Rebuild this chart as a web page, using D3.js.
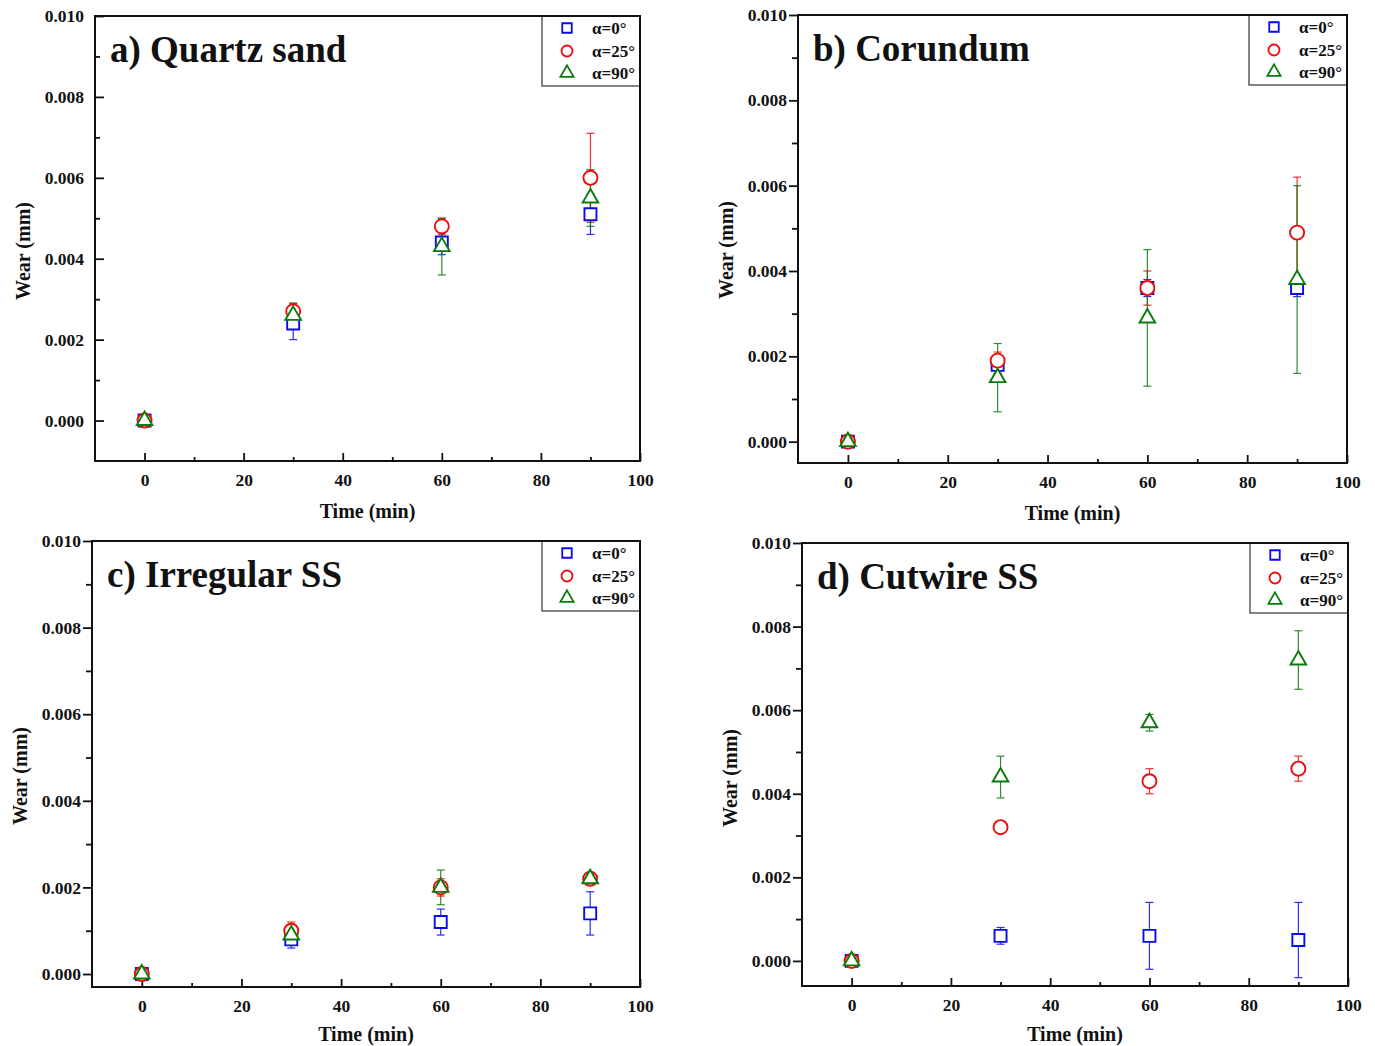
<!DOCTYPE html>
<html>
<head>
<meta charset="utf-8">
<script src="https://cdn.jsdelivr.net/npm/d3@7"></script>
<style>
  html, body { margin: 0; padding: 0; background: #fff; }
  svg { display: block; }
  text { font-family: "Liberation Serif", "Times New Roman", serif; font-weight: bold; }
</style>
</head>
<body>
<svg id="chart" width="1375" height="1046"></svg>
<script>
// ---------------- data ----------------
const times = [0, 30, 60, 90];
const seriesLabels = ["α=0°", "α=25°", "α=90°"];
const panelTitles = ["a) Quartz sand", "b) Corundum", "c) Irregular SS", "d) Cutwire SS"];
const xTickValues = [0, 20, 40, 60, 80, 100];
const xMinorTicks = [10, 30, 50, 70, 90];
const yTickValues = [0, 0.002, 0.004, 0.006, 0.008, 0.010];
const yMinorTicks = [0.001, 0.003, 0.005, 0.007, 0.009];
const xDomain = [-10, 100];
const yMins = [-0.001, -0.0005, -0.0003, -0.0006];
const yMax = 0.010;

// rows: α=0°, α=25°, α=90°
const quartzWear = [
  [0, 0.0024, 0.0044, 0.0051],
  [0, 0.0027, 0.0048, 0.0060],
  [0, 0.0026, 0.0043, 0.0055]
];
const quartzErr = [
  [0, 0.0004, 0.0003, 0.0005],
  [0, 0.0002, 0.0002, 0.0011],
  [0, 0.0003, 0.0007, 0.0007]
];
const corundumWear = [
  [0, 0.0018, 0.0036, 0.0036],
  [0, 0.0019, 0.0036, 0.0049],
  [0, 0.0015, 0.0029, 0.0038]
];
const corundumErr = [
  [0, 0.0002, 0.0002, 0.0002],
  [0, 0.0002, 0.0004, 0.0013],
  [0, 0.0008, 0.0016, 0.0022]
];
const irregularWear = [
  [0, 0.0008, 0.0012, 0.0014],
  [0, 0.0010, 0.0020, 0.0022],
  [0, 0.0009, 0.0020, 0.0022]
];
const irregularErr = [
  [0, 0.0002, 0.0003, 0.0005],
  [0, 0.0002, 0.0002, 0.0001],
  [0, 0.0002, 0.0004, 0.0001]
];
const cutwireWear = [
  [0, 0.0006, 0.0006, 0.0005],
  [0, 0.0032, 0.0043, 0.0046],
  [0, 0.0044, 0.0057, 0.0072]
];
const cutwireErr = [
  [0, 0.0002, 0.0008, 0.0009],
  [0, 0.0001, 0.0003, 0.0003],
  [0, 0.0005, 0.0002, 0.0007]
];

// ---------------- layout / style ----------------
const colors = ["#0a0aee", "#ee0a0a", "#0a7a0a"];
const symbolTypes = [d3.symbolSquare, d3.symbolCircle, d3.symbolTriangle];
const plotSymbolSizes = [144, 155, 105];
const legendSymbolSizes = [90, 95, 75];

const layouts = [
  {L: 95,  R: 640,  T: 16,  B: 461, inward: true,  xt: 57},
  {L: 798, R: 1347, T: 15,  B: 463, inward: false, xt: 57},
  {L: 92,  R: 640,  T: 541, B: 987, inward: false, xt: 54},
  {L: 802, R: 1348, T: 543, B: 986, inward: false, xt: 55}
];
const wearSets = [quartzWear, corundumWear, irregularWear, cutwireWear];
const errSets = [quartzErr, corundumErr, irregularErr, cutwireErr];

const svg = d3.select("#chart");
svg.append("rect").attr("width", 1375).attr("height", 1046).attr("fill", "#fff");

layouts.forEach((lay, pi) => {
  const x = d3.scaleLinear().domain(xDomain).range([lay.L, lay.R]);
  const y = d3.scaleLinear().domain([yMins[pi], yMax]).range([lay.B, lay.T]);
  const g = svg.append("g");

  // x axis (inward ticks)
  const xAxis = d3.axisBottom(x).tickValues(xTickValues).tickSize(-8).tickPadding(13)
    .tickFormat(d3.format("d"));
  const xg = g.append("g").attr("transform", `translate(0,${lay.B})`).call(xAxis);
  const xMinor = d3.axisBottom(x).tickValues(xMinorTicks).tickSize(-4).tickFormat("");
  const xmg = g.append("g").attr("transform", `translate(0,${lay.B})`).call(xMinor);

  // y axis
  const major = lay.inward ? -9 : 9;
  const minor = lay.inward ? -5 : 6;
  const yAxis = d3.axisLeft(y).tickValues(yTickValues).tickSize(major)
    .tickPadding(lay.inward ? 11 : 2).tickFormat(d3.format(".3f"));
  const yg = g.append("g").attr("transform", `translate(${lay.L},0)`).call(yAxis);
  const yMinor = d3.axisLeft(y).tickValues(yMinorTicks).tickSize(minor).tickFormat("");
  const ymg = g.append("g").attr("transform", `translate(${lay.L},0)`).call(yMinor);

  [xg, xmg, yg, ymg].forEach(a => {
    a.select(".domain").remove();
    a.selectAll(".tick line").attr("stroke", "#111").attr("stroke-width", 1.8);
    a.selectAll(".tick text").attr("fill", "#111").style("font-size", "17.5px")
      .style("font-family", '"Liberation Serif", "Times New Roman", serif').style("font-weight", "bold");
  });

  // frame
  g.append("rect").attr("x", lay.L).attr("y", lay.T)
    .attr("width", lay.R - lay.L).attr("height", lay.B - lay.T)
    .attr("fill", "none").attr("stroke", "#111").attr("stroke-width", 2);

  // axis titles
  g.append("text").attr("x", (lay.L + lay.R) / 2).attr("y", lay.B + lay.xt)
    .attr("text-anchor", "middle").style("font-size", "20px").attr("fill", "#111")
    .text("Time (min)");
  g.append("text")
    .attr("transform", `translate(${lay.L - 65},${lay.T + 235}) rotate(-90)`)
    .attr("text-anchor", "middle").style("font-size", "20px").attr("fill", "#111")
    .text("Wear (mm)");

  // panel title
  g.append("text").attr("x", lay.L + 15).attr("y", lay.T + 46)
    .style("font-size", "37px").attr("fill", "#111").text(panelTitles[pi]);

  const wear = wearSets[pi], errs = errSets[pi];

  // error bars
  wear.forEach((vals, si) => {
    vals.forEach((v, ti) => {
      const e = errs[si][ti];
      if (!e) return;
      const cx = x(times[ti]);
      const eg = g.append("g").attr("stroke", colors[si]).attr("stroke-width", 1.2).attr("opacity", 0.85);
      eg.append("line").attr("x1", cx).attr("x2", cx).attr("y1", y(v - e)).attr("y2", y(v + e));
      [v - e, v + e].forEach(ev => {
        eg.append("line").attr("x1", cx - 4).attr("x2", cx + 4).attr("y1", y(ev)).attr("y2", y(ev));
      });
    });
  });

  // markers
  wear.forEach((vals, si) => {
    const sym = d3.symbol().type(symbolTypes[si]).size(plotSymbolSizes[si]);
    g.append("g").selectAll("path").data(vals).join("path")
      .attr("d", sym)
      .attr("transform", (d, ti) => `translate(${x(times[ti])},${y(d)})`)
      .attr("fill", "#fff").attr("stroke", colors[si]).attr("stroke-width", 1.9);
  });

  // legend
  const lw = 98, lh = 70;
  const lx = lay.R - lw, ly = lay.T;
  g.append("rect").attr("x", lx).attr("y", ly).attr("width", lw).attr("height", lh)
    .attr("fill", "#fff").attr("stroke", "#333").attr("stroke-width", 1.2);
  const rows = [12, 35, 57];
  seriesLabels.forEach((lab, si) => {
    const sym = d3.symbol().type(symbolTypes[si]).size(legendSymbolSizes[si]);
    g.append("path").attr("d", sym)
      .attr("transform", `translate(${lx + 25},${ly + rows[si]})`)
      .attr("fill", "none").attr("stroke", colors[si]).attr("stroke-width", 1.8);
    g.append("text").attr("x", lx + 50).attr("y", ly + rows[si] + 6)
      .style("font-size", "17px").attr("fill", "#111").text(lab);
  });
  // redraw frame edges over legend
  g.append("rect").attr("x", lay.L).attr("y", lay.T)
    .attr("width", lay.R - lay.L).attr("height", lay.B - lay.T)
    .attr("fill", "none").attr("stroke", "#111").attr("stroke-width", 2);
});
</script>
</body>
</html>
